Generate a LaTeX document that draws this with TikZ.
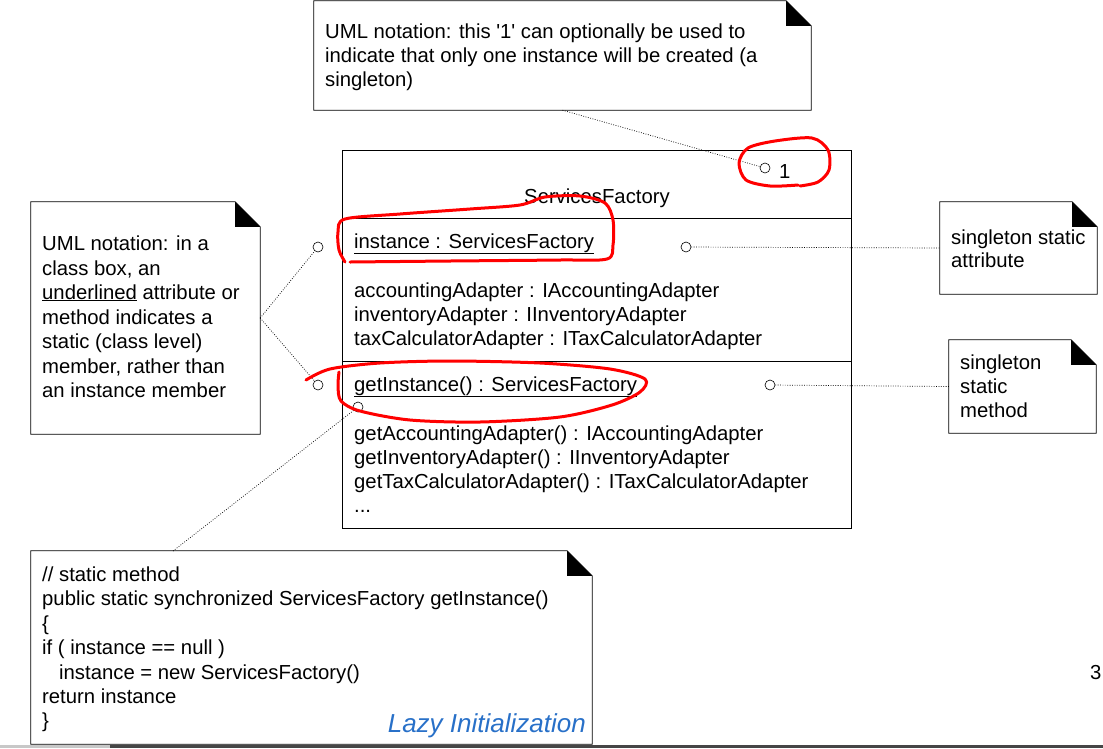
\documentclass[tikz,border=0pt]{standalone}
\usepackage{fontspec}
\setmainfont{Liberation Sans}
\definecolor{lazyblue}{RGB}{40,112,200}
\definecolor{bardark}{RGB}{70,70,70}
\definecolor{barlight}{RGB}{200,200,200}
\newcommand\notedraw[1]{%
  \draw[line width=0.8pt] (#1.north west) -- ([xshift=-25pt]#1.north east) -- ([yshift=-25pt]#1.north east) -- (#1.south east) -- (#1.south west) -- cycle;
  \fill ([xshift=-25pt]#1.north east) -- ([xshift=-25pt,yshift=-25pt]#1.north east) -- ([yshift=-25pt]#1.north east) -- cycle;}
\begin{document}
\begin{tikzpicture}[x=1pt,y=-1pt,
  txt/.style={anchor=base west, inner sep=0pt, font=\fontsize{20.3}{24}\selectfont},
  notebox/.style={draw=none, inner sep=0pt, rectangle},
  pin/.style={circle, draw, inner sep=0pt, minimum size=10pt, line width=0.6pt},
  dotline/.style={line width=0.7pt, dash pattern=on 0.8pt off 1.6pt},
  redmark/.style={red, line width=3pt, line cap=round, line join=round}]
\useasboundingbox (0,0) rectangle (1103,748);

% notes
\node[notebox, minimum width=497pt, minimum height=109pt] (topnote) at (562.5,55.5) {};
\node[notebox, minimum width=229pt, minimum height=232pt] (leftnote) at (145.5,318) {};
\node[notebox, minimum width=157pt, minimum height=92pt] (rnoteA) at (1018.5,248) {};
\node[notebox, minimum width=147pt, minimum height=93pt] (rnoteB) at (1022.5,386.5) {};
\node[notebox, minimum width=561pt, minimum height=193pt] (bnote) at (311.5,647.5) {};
\notedraw{topnote}
\notedraw{leftnote}
\notedraw{rnoteA}
\notedraw{rnoteB}
\notedraw{bnote}

% class box
\node[draw, line width=0.8pt, minimum width=509pt, minimum height=378pt, inner sep=0pt] (classbox) at (596.5,339) {};
\draw[line width=0.8pt] (342,218) -- (851,218);
\draw[line width=0.8pt] (342,361) -- (851,361);

% texts: top note
\node[txt] (t1) at (325,38) {UML notation: this \textquotesingle1\textquotesingle{} can optionally be used to};
\node[txt] (t2) at (325,62) {indicate that only one instance will be created (a};
\node[txt] (t3) at (325,86) {singleton)};

% class texts
\node[txt, anchor=base] (cname) at (597,203) {ServicesFactory};
\node[txt] (mult) at (779,178) {1};
\node[txt] (a1) at (354,248) {\underline{instance : ServicesFactory}};
\node[txt] (a2) at (354,297) {accountingAdapter : IAccountingAdapter};
\node[txt] (a3) at (354,321) {inventoryAdapter : IInventoryAdapter};
\node[txt] (a4) at (354,345) {taxCalculatorAdapter : ITaxCalculatorAdapter};
\node[txt] (m1) at (354,391) {\underline{getInstance() : ServicesFactory}};
\node[txt] (m2) at (354,440) {getAccountingAdapter() : IAccountingAdapter};
\node[txt] (m3) at (354,464) {getInventoryAdapter() : IInventoryAdapter};
\node[txt] (m4) at (354,488) {getTaxCalculatorAdapter() : ITaxCalculatorAdapter};
\node[txt] (m5) at (354,512) {...};

% left note
\node[txt] (l1) at (42,250) {UML notation: in a};
\node[txt] (l2) at (42,275) {class box, an};
\node[txt] (l3) at (42,299) {\underline{underlined} attribute or};
\node[txt] (l4) at (42,324) {method indicates a};
\node[txt] (l5) at (42,348) {static (class level)};
\node[txt] (l6) at (42,373) {member, rather than};
\node[txt] (l7) at (42,397) {an instance member};

% right notes
\node[txt] (r1) at (951,244) {singleton static};
\node[txt] (r2) at (951,267) {attribute};
\node[txt] (r3) at (960,369) {singleton};
\node[txt] (r4) at (960,393) {static};
\node[txt] (r5) at (960,417) {method};

% bottom note
\node[txt] (b1) at (42,581) {// static method};
\node[txt] (b2) at (42,605) {public static synchronized ServicesFactory getInstance()};
\node[txt] (b3) at (42,630) {\{};
\node[txt] (b4) at (42,654) {if ( instance == null )};
\node[txt] (b5) at (59,679) {instance = new ServicesFactory()};
\node[txt] (b6) at (42,703) {return instance};
\node[txt] (b7) at (42,727) {\}};
\node[anchor=base east, inner sep=0pt, font=\fontsize{26}{30}\selectfont\itshape, text=lazyblue] (lazy) at (586,732) {Lazy Initialization};

\node[txt] (pagenum) at (1090,679) {3};

% pins
\node[pin] (c1) at (765,168) {};
\node[pin] (cal) at (318,247) {};
\node[pin] (car) at (686,247) {};
\node[pin] (cml) at (318,385) {};
\node[pin] (cmr) at (770,385) {};
\node[pin] (cmb) at (358,407) {};
\coordinate (bnpt) at (173,551);

% connectors
\draw[dotline] (topnote.south) -- (c1);
\draw[dotline] (leftnote.east) -- (cal);
\draw[dotline] (leftnote.east) -- (cml);
\draw[dotline] (car) -- (rnoteA.west);
\draw[dotline] (cmr) -- (rnoteB.west);
\draw[dotline] (bnpt) -- (cmb);

% red hand-drawn marks
\draw[redmark] plot[smooth] coordinates {(798,185) (770,186) (746,180) (739,163) (748,148) (775,141) (812,138) (828,150) (829,170) (818,182) (800,186)};
\draw[redmark] plot[smooth] coordinates {(345,262) (339,250) (338,232) (345,219) (400,214) (470,209) (520,205) (545,197) (580,196) (605,203) (613,220) (613,245) (607,259) (560,260) (450,261) (350,262)};
\draw[redmark] plot[smooth] coordinates {(306,380) (330,369) (380,363) (450,361) (540,363) (610,369) (645,379) (640,392) (612,405) (560,417) (480,422) (410,420) (360,411) (341,401) (338,386) (339,372)};

% bottom bar
\fill[barlight] (0,745) rectangle (110,748);
\fill[bardark] (110,745) rectangle (1103,748);
\end{tikzpicture}
\end{document}
